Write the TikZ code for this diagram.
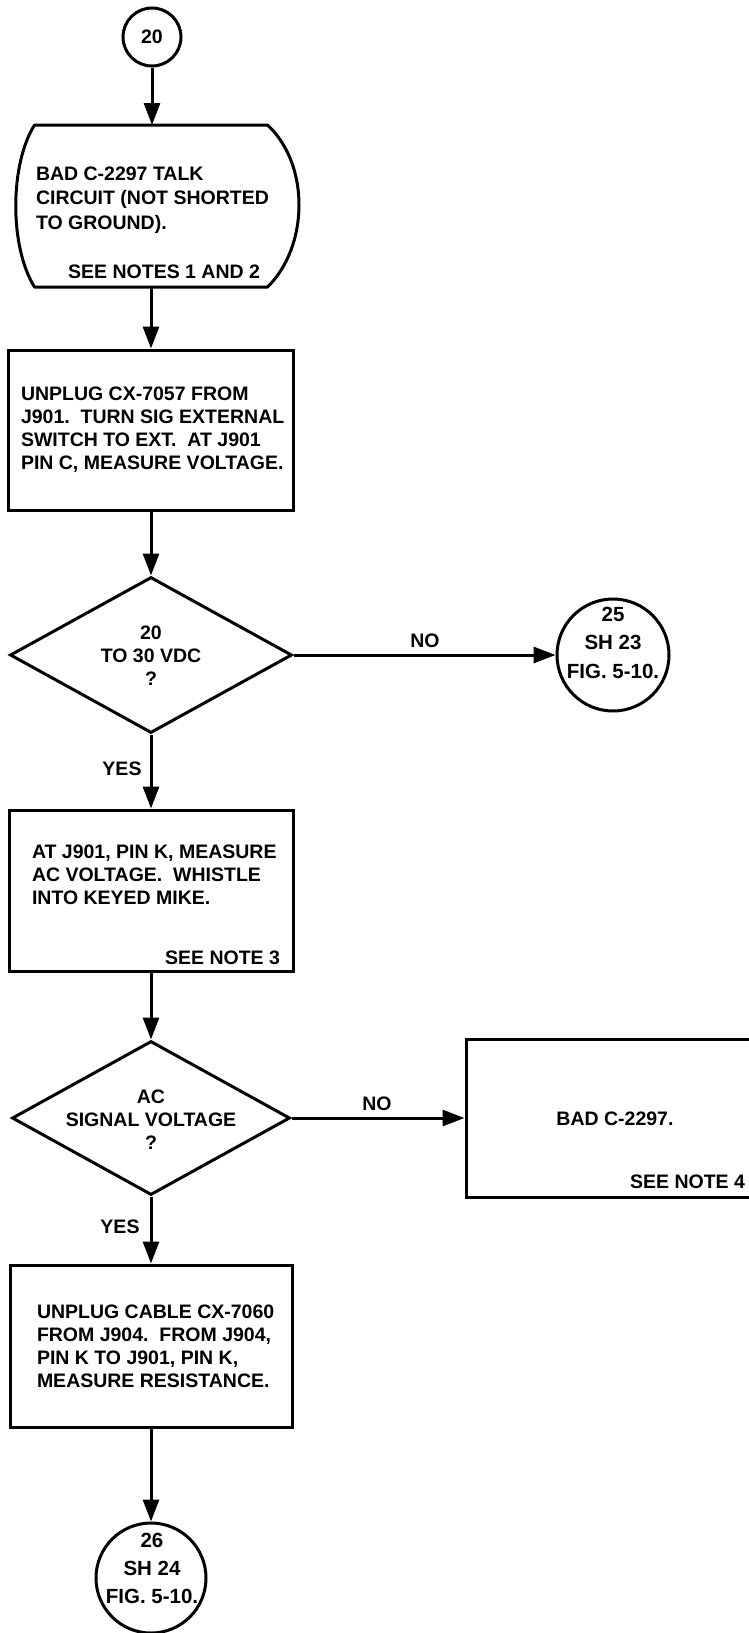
\documentclass[tikz,border=0pt]{standalone}
\usepackage{fontspec}
\setmainfont{Liberation Sans}
\usetikzlibrary{shapes.geometric,arrows.meta}
\newcommand\strutx{\rule{0pt}{16pt}}
\begin{document}
\begin{tikzpicture}[x=1pt,y=-1pt,
  ln/.style={line width=3pt},
  arr/.style={ln,-{Triangle[length=22pt,width=16pt]}},
  shp/.style={draw,ln,inner sep=0pt},
  boxs/.style={shp,rectangle},
  circ/.style={shp,circle},
  dia/.style={shp,diamond},
  txt/.style={inner sep=0pt,outer sep=0pt,font=\fontsize{19.5}{23.3}\selectfont\bfseries},
  ctxt/.style={txt,font=\fontsize{20.5}{28.5}\selectfont\bfseries},
  lbl/.style={txt,anchor=base}
]
\useasboundingbox (0,0) rectangle (749,1633);
\clip (0,0) rectangle (749,1633);

% start connector
\node[circ,minimum size=58pt,font=\fontsize{19.5}{23.3}\selectfont\bfseries] (c20) at (152,37) {20};

% terminal shape
\node[inner sep=0pt,outer sep=0pt,minimum width=233pt,minimum height=162pt] (t1) at (151,206) {};
\draw[ln,line join=round] (t1.north west) -- (t1.north east)
  .. controls +(43,40) and +(41,-40) .. (t1.south east)
  -- (t1.south west)
  .. controls +(-25,-40) and +(-25,40) .. (t1.north west) -- cycle;
\node[txt,anchor=north west,align=left,font=\fontsize{19.5}{24.5}\selectfont\bfseries] (t1txt) at (36,164)
  {\strutx BAD C-2297 TALK\\CIRCUIT (NOT SHORTED\\TO GROUND).};
\node[lbl,anchor=base east] (t1note) at (260,278) {SEE NOTES 1 AND 2};

% box 2
\node[boxs,minimum width=285pt,minimum height=160pt] (b2) at (151,430) {};
\node[txt,anchor=north west,align=left] (b2txt) at (21,384)
  {\strutx UNPLUG CX-7057 FROM\\J901.\ \ TURN SIG EXTERNAL\\SWITCH TO EXT.\ \ AT J901\\PIN C, MEASURE VOLTAGE.};

% decision 1
\node[dia,minimum width=282pt,minimum height=156pt] (d1) at (151,655) {};
\node[txt,anchor=north,align=center] (d1txt) at (151,623) {\strutx 20\\TO 30 VDC\\?};
\node[lbl] (no1) at (425,647) {NO};

\node[circ,minimum size=112pt] (c25) at (613,655) {};
\node[ctxt,anchor=north,align=center] (c25txt) at (613,605) {\strutx 25\\SH 23\\FIG. 5-10.};

\node[lbl] (yes1) at (122,775) {YES};

% box 3
\node[boxs,minimum width=284pt,minimum height=161pt] (b3) at (151,890.5) {};
\node[txt,anchor=north west,align=left] (b3txt) at (32,842)
  {\strutx AT J901, PIN K, MEASURE\\AC VOLTAGE.\ \ WHISTLE\\INTO KEYED MIKE.};
\node[lbl,anchor=base east] (b3note) at (280,964) {SEE NOTE 3};

% decision 2
\node[dia,minimum width=278pt,minimum height=154pt] (d2) at (151,1118) {};
\node[txt,anchor=north,align=center] (d2txt) at (151,1087) {\strutx AC\\SIGNAL VOLTAGE\\?};
\node[lbl] (no2) at (377,1110) {NO};

\node[boxs,minimum width=304pt,minimum height=158pt] (b5) at (618,1118) {};
\node[lbl] (b5txt) at (615,1125) {BAD C-2297.};
\node[lbl,anchor=base east] (b5note) at (745,1188) {SEE NOTE 4};

\node[lbl] (yes2) at (120,1233) {YES};

% box 4
\node[boxs,minimum width=282pt,minimum height=162pt] (b4) at (151,1346) {};
\node[txt,anchor=north west,align=left] (b4txt) at (37,1302)
  {\strutx UNPLUG CABLE CX-7060\\FROM J904.\ \ FROM J904,\\PIN K TO J901, PIN K,\\MEASURE RESISTANCE.};

\node[circ,minimum size=110pt] (c26) at (151,1578) {};
\node[ctxt,anchor=north,align=center,font=\fontsize{20.5}{28}\selectfont\bfseries] (c26txt) at (152,1531) {\strutx 26\\SH 24\\FIG. 5-10.};

% connectors
\draw[arr] (c20.south) -- (c20.south |- t1.north);
\draw[arr] (t1.south) -- (b2.north);
\draw[arr] (b2.south) -- (d1.north);
\draw[arr] (d1.east) -- (c25.west);
\draw[arr] (d1.south) -- (b3.north);
\draw[arr] (b3.south) -- (d2.north);
\draw[arr] (d2.east) -- (b5.west);
\draw[arr] (d2.south) -- (b4.north);
\draw[arr] (b4.south) -- (c26.north);
\end{tikzpicture}
\end{document}
